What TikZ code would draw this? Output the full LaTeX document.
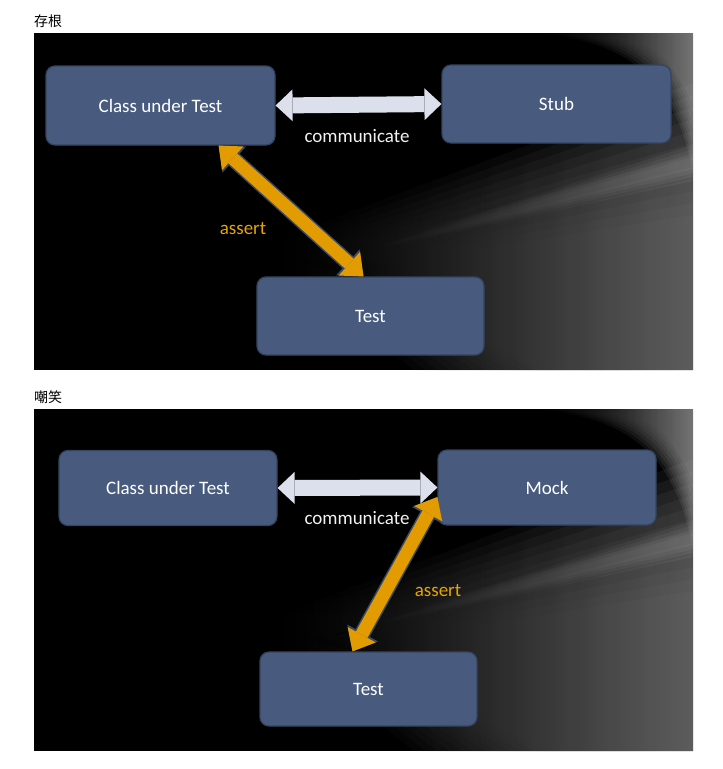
\documentclass[tikz,border=0pt]{standalone}
\usepackage{fontspec}
\setmainfont{Carlito}
\newfontfamily\cjk{Noto Sans CJK SC}
\usetikzlibrary{arrows.meta}

\definecolor{boxfill}{HTML}{485B7E}
\definecolor{boxedge}{HTML}{34445F}
\definecolor{talkfill}{HTML}{DCE0EC}
\definecolor{assertfill}{HTML}{E29B00}
\definecolor{assertedge}{HTML}{3A4A66}
\definecolor{asserttext}{HTML}{E8A400}
\definecolor{streak}{HTML}{7A7A7A}
\definecolor{streaklight}{HTML}{B0B0B0}

\begin{document}
\begin{tikzpicture}[x=1pt,y=-1pt,
  box/.style={draw=boxedge,fill=boxfill,rounded corners=9pt,line width=1.2pt,
    text=white,inner sep=0pt,font=\fontsize{19}{22}\selectfont},
  talk/.style={draw=talkfill,line width=16pt,
    {Triangle[length=17pt,width=32pt,line width=0pt]}-{Triangle[length=17pt,width=32pt,line width=0pt]}},
  assertedge/.style={draw=assertedge,line width=16pt,
    {Triangle[length=21pt,width=35pt,line width=0pt]}-{Triangle[length=21pt,width=35pt,line width=0pt]}},
  assertarrow/.style={draw=assertfill,line width=13pt,
    {Triangle[length=19pt,width=32pt,line width=0pt]}-{Triangle[length=19pt,width=32pt,line width=0pt]}},
  talklabel/.style={text=white!95!black,font=\fontsize{19}{22}\selectfont},
  assertlabel/.style={text=asserttext,font=\fontsize{19}{22}\selectfont},
  title/.style={anchor=west,inner sep=0pt,font=\cjk\fontsize{14}{16}\selectfont}]
\useasboundingbox (0,0) rectangle (723,769);
\fill[white] (0,0) rectangle (723,769);

% dark backgrounds with grey streaks
\foreach \py/\ph in {33/337,409/342}{
  \fill[black] (34,\py) rectangle ++(659,\ph);
  \begin{scope}[shift={(34,\py)}]
    \clip (0,0) rectangle (659,\ph);
    \foreach \k in {0,...,11}
      \shade[left color=black,right color=streak,opacity=.12]
        (220+8*\k,215+2*\k) -- (659,50+12*\k) -- (659,\ph) -- (380+12*\k,\ph) -- cycle;
    \foreach \k in {0,...,5}
      \shade[left color=black,right color=streaklight,opacity=.1]
        (300,226) -- (659,112+4*\k) -- (659,128+4*\k) -- cycle;
    \foreach \k in {0,...,7}
      \shade[left color=black,right color=streaklight,opacity=.13]
        (500+10*\k,0) .. controls (590+6*\k,8) and (640,40) .. (659,140-10*\k) -- (659,0) -- cycle;
  \end{scope}
}

% stub
\node[title] (stubtitle) at (34,21) {存根};
\node[box,minimum width=229pt,minimum height=79pt] (cut1) at (160.5,105.5) {Class under Test};
\node[box,minimum width=229pt,minimum height=78pt] (stub) at (556.5,104) {Stub};
\node[box,minimum width=227pt,minimum height=78pt] (test1) at (370.5,316) {Test};
\draw[talk] (cut1.east) -- (stub.west);
\draw[assertedge] ([xshift=-57pt]cut1.south east) -- ([xshift=-7pt]test1.north);
\draw[assertarrow] ([xshift=-57pt]cut1.south east) -- ([xshift=-7pt]test1.north);
\node[talklabel] (talk1) at (357,136) {communicate};
\node[assertlabel] (assert1) at (243,229) {assert};

% mock
\node[title] (mocktitle) at (34,397) {嘲笑};
\node[box,minimum width=218pt,minimum height=75pt] (cut2) at (168,488) {Class under Test};
\node[box,minimum width=218pt,minimum height=75pt] (mock) at (547,487.5) {Mock};
\node[box,minimum width=217pt,minimum height=74pt] (test2) at (368.5,689) {Test};
\draw[talk] (cut2.east) -- (mock.west);
\draw[assertedge] ([yshift=-9.5pt]mock.west) -- ([xshift=-16pt]test2.north);
\draw[assertarrow] ([yshift=-9.5pt]mock.west) -- ([xshift=-16pt]test2.north);
\node[talklabel] (talk2) at (357,518) {communicate};
\node[assertlabel] (assert2) at (438,591) {assert};
\end{tikzpicture}
\end{document}
